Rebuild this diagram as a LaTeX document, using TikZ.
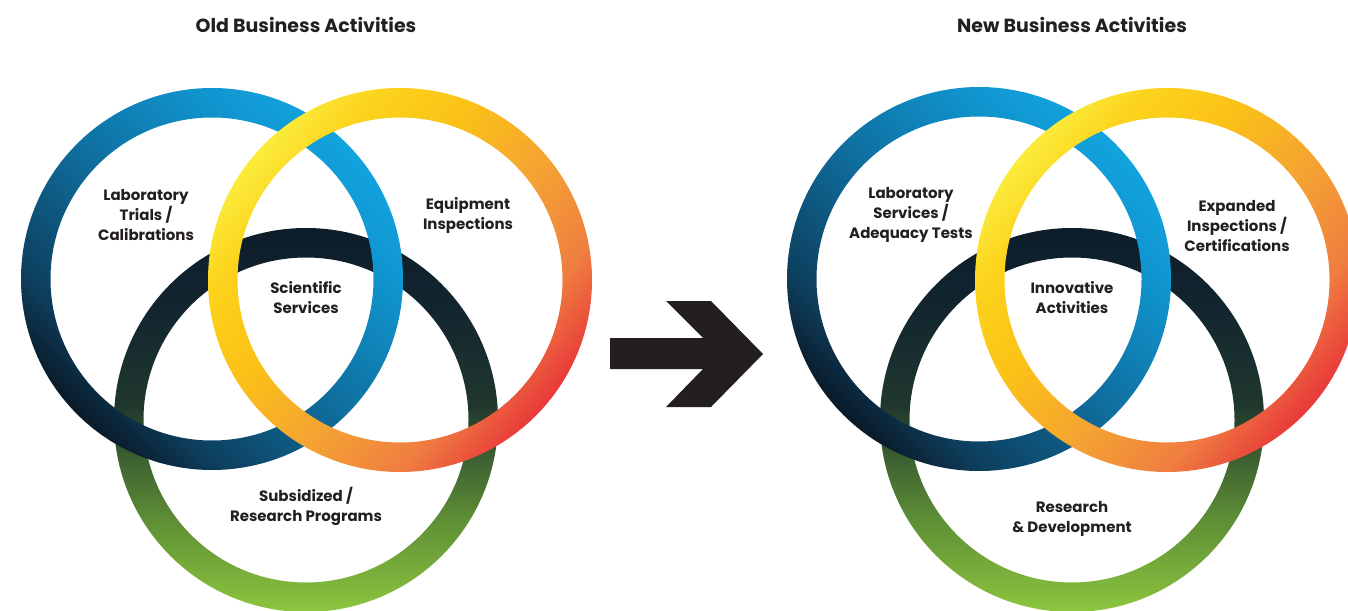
\documentclass[tikz,border=0pt]{standalone}
\usepackage{fontspec}
\setmainfont{Poppins}
\definecolor{txt}{HTML}{231F20}
% blue ring colours
\definecolor{bA}{HTML}{0A1A28}
\definecolor{bB}{HTML}{0D3F5E}
\definecolor{bC}{HTML}{0F6F9F}
\definecolor{bD}{HTML}{1096D0}
\definecolor{bE}{HTML}{12A3DE}
% yellow ring colours
\definecolor{yA}{HTML}{FBEC3C}
\definecolor{yB}{HTML}{FCD31C}
\definecolor{yC}{HTML}{FBC216}
\definecolor{yD}{HTML}{F4A233}
\definecolor{yE}{HTML}{EF7E40}
\definecolor{yF}{HTML}{E8393A}
% green ring colours
\definecolor{gA}{HTML}{8DC63F}
\definecolor{gB}{HTML}{5E8F35}
\definecolor{gC}{HTML}{20372D}
\definecolor{gD}{HTML}{12252F}
\definecolor{gE}{HTML}{0D1D2B}
\pgfdeclarehorizontalshading{blueshade}{100bp}{color(0bp)=(bA); color(25bp)=(bA); color(33bp)=(bB); color(50bp)=(bC); color(67bp)=(bD); color(75bp)=(bE); color(100bp)=(bE)}
\pgfdeclarehorizontalshading{yellowshade}{100bp}{color(0bp)=(yA); color(25bp)=(yA); color(32bp)=(yB); color(42bp)=(yC); color(55bp)=(yD); color(66bp)=(yE); color(75bp)=(yF); color(100bp)=(yF)}
\pgfdeclareverticalshading{greenshade}{100bp}{color(0bp)=(gA); color(25bp)=(gA); color(37bp)=(gB); color(52bp)=(gC); color(65bp)=(gD); color(75bp)=(gE); color(100bp)=(gE)}
\tikzset{
  ringpath/.style={even odd rule},
  title/.style={font=\fontsize{19}{23}\selectfont\bfseries, text=txt, inner sep=0pt},
  lbl/.style={font=\fontsize{15}{20}\selectfont\bfseries, text=txt, align=center, inner sep=0pt},
}
\begin{document}
\begin{tikzpicture}[x=1pt,y=-1pt]
\useasboundingbox (0,0) rectangle (1348,610);
% ---------- left diagram ----------
\coordinate (LB) at (212,279);
\coordinate (LY) at (400,280);
\coordinate (LG) at (306,420);
\shade[ringpath, shading=greenshade] (LG) circle[radius=192pt] (LG) circle[radius=162.5pt];
\shade[ringpath, shading=blueshade, shading angle=45] (LB) circle[radius=191pt] (LB) circle[radius=161.5pt];
\shade[ringpath, shading=yellowshade, shading angle=-40] (LY) circle[radius=192pt] (LY) circle[radius=162.5pt];
% ---------- right diagram ----------
\coordinate (RB) at (979,279);
\coordinate (RY) at (1167,280);
\coordinate (RG) at (1072,420);
\shade[ringpath, shading=greenshade] (RG) circle[radius=192pt] (RG) circle[radius=162.5pt];
\shade[ringpath, shading=blueshade, shading angle=45] (RB) circle[radius=192pt] (RB) circle[radius=162.5pt];
\shade[ringpath, shading=yellowshade, shading angle=-40] (RY) circle[radius=192pt] (RY) circle[radius=162.5pt];
% ---------- arrow ----------
\fill[txt] (610,338) -- (703,338) -- (666,301) -- (711,301) -- (763,354) -- (711,407) -- (666,407) -- (703,369) -- (610,369) -- cycle;
% ---------- titles ----------
\node[title] (tOld) at (306,25) {Old Business Activities};
\node[title] (tNew) at (1072,25) {New Business Activities};
% ---------- labels left ----------
\node[lbl] (l1) at (146,215) {Laboratory\\Trials /\\Calibrations};
\node[lbl] (l2) at (468,215) {Equipment\\Inspections};
\node[lbl] (l3) at (306,298) {Scientific\\Services};
\node[lbl] (l4) at (306,506) {Subsidized /\\Research Programs};
% ---------- labels right ----------
\node[lbl] (r1) at (911,215) {Laboratory\\Services /\\Adequacy Tests};
\node[lbl] (r2) at (1237,226) {Expanded\\Inspections /\\Certifications};
\node[lbl] (r3) at (1072,298) {Innovative\\Activities};
\node[lbl] (r4) at (1072,519) {Research\\\& Development};
\end{tikzpicture}
\end{document}
